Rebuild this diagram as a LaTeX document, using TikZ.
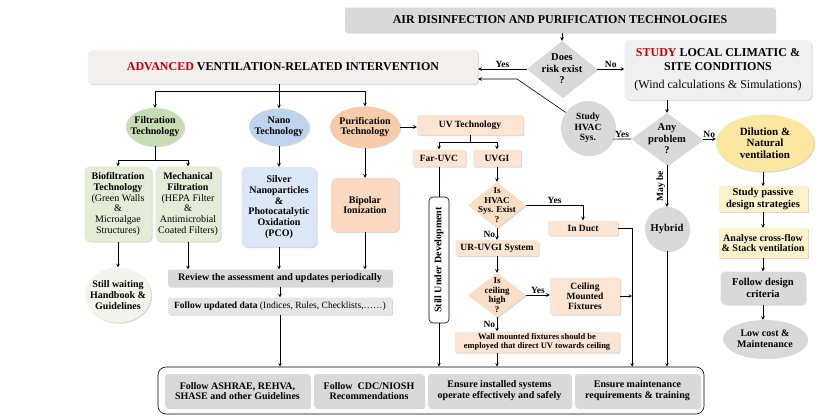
\documentclass[tikz,border=0pt]{standalone}
\usepackage{fontspec}
\setmainfont{Liberation Serif}
\usepackage{tikz}
\usetikzlibrary{arrows,shapes,positioning,shadows}
\usepackage{xcolor}
\definecolor{avgrey}{RGB}{217,217,217}
\definecolor{avlight}{RGB}{230,230,230}
\definecolor{avadv}{RGB}{243,239,239}
\definecolor{avstudy}{RGB}{240,240,240}
\definecolor{avred}{RGB}{192,0,0}
\definecolor{filtgreen}{RGB}{199,220,179}
\definecolor{filtpale}{RGB}{227,236,215}
\definecolor{waitpale}{RGB}{242,245,236}
\definecolor{nanoblue}{RGB}{190,212,238}
\definecolor{nanopale}{RGB}{219,230,246}
\definecolor{purpeach}{RGB}{248,203,170}
\definecolor{bippeach}{RGB}{251,217,193}
\definecolor{uvpeach}{RGB}{252,229,210}
\definecolor{diapeach}{RGB}{250,222,197}
\definecolor{dilyellow}{RGB}{252,231,160}
\definecolor{paleyellow}{RGB}{254,242,205}
\tikzstyle{arrow} = [line width=0.6pt,->,>=stealth]
\tikzstyle{link} = [line width=0.6pt]
\tikzstyle{shade} = [drop shadow={opacity=0.3,shadow xshift=1.2pt,shadow yshift=-1.2pt}]
\tikzstyle{box} = [rectangle, rounded corners=2pt, align=center, inner sep=2pt, shade, font=\bfseries\fontsize{10}{10.8}\selectfont]
\tikzstyle{blob} = [ellipse, align=center, inner xsep=-4pt, inner ysep=0pt, shade, font=\bfseries\fontsize{10}{10.8}\selectfont]
\tikzstyle{round} = [circle, align=center, inner sep=0pt, fill=avgrey, shade]
\tikzstyle{decision} = [diamond, inner sep=0pt, shade]
\tikzstyle{dtext} = [align=center, inner sep=0pt, font=\bfseries\fontsize{10.5}{11.5}\selectfont]
\tikzstyle{stext} = [align=center, inner sep=0pt, font=\bfseries\fontsize{9}{9.6}\selectfont]
\tikzstyle{tag} = [inner sep=1.5pt, font=\bfseries\fontsize{9.5}{10}\selectfont]

\begin{document}
\begin{tikzpicture}[x=1pt, y=-1pt]
\useasboundingbox (0,0) rectangle (816,418);

% Main heading and first decision
\node (air) [box, fill=avgrey, minimum width=430pt, minimum height=25pt, font=\bfseries\fontsize{12}{14}\selectfont] at (560,20) {AIR DISINFECTION AND PURIFICATION TECHNOLOGIES};
\node (risk) [decision, fill=avgrey, minimum width=70pt, minimum height=56pt, label={[dtext]center:{Does\\risk exist\\?}}] at (562,69) {};
\node (adv) [box, fill=avadv, rounded corners=4pt, minimum width=390pt, minimum height=34pt, font=\bfseries\fontsize{12}{14}\selectfont] at (283,67) {\textcolor{avred}{ADVANCED} VENTILATION-RELATED INTERVENTION};
\node (study) [box, fill=avstudy, rounded corners=5pt, minimum width=187pt, minimum height=60pt, font=\bfseries\fontsize{12}{14}\selectfont] at (718,70) {\textcolor{avred}{STUDY} LOCAL CLIMATIC \&\\SITE CONDITIONS\\[4pt]\textmd{(Wind calculations \& Simulations)}};

% Natural ventilation branch
\node (prob) [decision, fill=avgrey, minimum width=71pt, minimum height=52pt, label={[dtext]center:{Any\\problem\\?}}] at (667,139) {};
\node (hvac) [round, minimum size=54pt, font=\bfseries\fontsize{9.5}{10.5}\selectfont] at (588,128) {Study\\HVAC\\Sys.};
\node (hybrid) [round, minimum size=44pt, font=\bfseries\fontsize{10.5}{11}\selectfont] at (667,229) {Hybrid};
\node (dil) [blob, fill=dilyellow, minimum width=98pt, minimum height=57pt, font=\bfseries\fontsize{11}{11.5}\selectfont] at (765,143) {Dilution \&\\Natural\\ventilation};
\node (passive) [box, fill=paleyellow, rounded corners=0pt, minimum width=89pt, minimum height=25pt, font=\bfseries\fontsize{10.5}{11.5}\selectfont] at (763,199) {Study passive\\design strategies};
\node (cross) [box, fill=paleyellow, rounded corners=0pt, minimum width=89pt, minimum height=30pt] at (763,243) {Analyse cross-flow\\\& Stack ventilation};
\node (crit) [box, fill=avgrey, rounded corners=5pt, minimum width=85pt, minimum height=33pt, font=\bfseries\fontsize{10.5}{11.5}\selectfont] at (763,288) {Follow design\\criteria};
\node (low) [blob, fill=avgrey, minimum width=84pt, minimum height=38pt] at (765,339) {Low cost \&\\Maintenance};

% Intervention technologies
\node (filt) [blob, fill=filtgreen, minimum width=58pt, minimum height=38pt] at (155,127) {Filtration\\Technology};
\node (nano) [blob, fill=nanoblue, minimum width=60pt, minimum height=37pt] at (279,127) {Nano\\Technology};
\node (purif) [blob, fill=purpeach, minimum width=70pt, minimum height=41pt] at (365,127) {Purification\\Technology};
\node (bio) [box, fill=filtpale, rounded corners=5pt, minimum width=67pt, minimum height=75pt] at (118,204) {Biofiltration\\Technology\\\textmd{(Green Walls}\\\textmd{\&}\\\textmd{Microalgae}\\\textmd{Structures)}};
\node (mech) [box, fill=filtpale, rounded corners=5pt, minimum width=65pt, minimum height=75pt] at (188,204) {Mechanical\\Filtration\\\textmd{(HEPA Filter}\\\textmd{\&}\\\textmd{Antimicrobial}\\\textmd{Coated Filters)}};
\node (silver) [box, fill=nanopale, rounded corners=6pt, minimum width=75pt, minimum height=80pt] at (279,207) {Silver\\Nanoparticles\\\&\\Photocatalytic\\Oxidation\\(PCO)};
\node (bipolar) [box, fill=bippeach, rounded corners=6pt, minimum width=68pt, minimum height=54pt] at (365,205) {Bipolar\\Ionization};
\node (wait) [blob, fill=waitpale, inner xsep=-6pt, minimum width=66pt, minimum height=55pt] at (118,295) {Still waiting\\Handbook \&\\Guidelines};
\node (review) [box, fill=avgrey, minimum width=224pt, minimum height=17pt] at (280,278) {Review the assessment and updates periodically};
\node (upd) [box, fill=avlight, minimum width=224pt, minimum height=17pt, font=\bfseries\fontsize{9.5}{10.5}\selectfont] at (280,306) {Follow updated data \textmd{(Indices, Rules, Checklists,……)}};

% UV technology
\node (uv) [box, fill=uvpeach, minimum width=106pt, minimum height=20pt, font=\bfseries\fontsize{9.5}{10}\selectfont] at (470,125) {UV Technology};
\node (far) [box, fill=uvpeach, minimum width=53pt, minimum height=17pt, font=\bfseries\fontsize{9.5}{10}\selectfont] at (439,158) {Far-UVC};
\node (uvgi) [box, fill=uvpeach, minimum width=48pt, minimum height=17pt, font=\bfseries\fontsize{9.5}{10}\selectfont] at (497,158) {UVGI};
\node (still) [rectangle, draw, fill=white, line width=0.6pt, rotate=90, rounded corners=4pt, minimum width=126pt, minimum height=20pt, inner sep=1pt, font=\bfseries\fontsize{10}{11}\selectfont] at (439,260) {Still Under Development};
\node (hvacq) [decision, fill=diapeach, minimum width=58pt, minimum height=46pt, label={[stext]center:{Is\\HVAC\\Sys. Exist\\?}}] at (497,205) {};
\node (induct) [box, fill=uvpeach, minimum width=70pt, minimum height=15pt, font=\bfseries\fontsize{9.5}{10}\selectfont] at (583,228) {In Duct};
\node (ur) [box, fill=uvpeach, minimum width=83pt, minimum height=16pt, font=\bfseries\fontsize{9.5}{10}\selectfont] at (497,248) {UR-UVGI System};
\node (ceilq) [decision, fill=diapeach, minimum width=58pt, minimum height=44pt, label={[stext]center:{Is\\ceiling\\high\\?}}] at (497,295) {};
\node (ceilfix) [box, fill=uvpeach, minimum width=70pt, minimum height=37pt, font=\bfseries\fontsize{9.5}{10}\selectfont] at (585,296) {Ceiling\\Mounted\\Fixtures};
\node (wall) [box, fill=uvpeach, minimum width=165pt, minimum height=21pt, font=\bfseries\fontsize{8.5}{9}\selectfont] at (537,342) {Wall mounted fixtures should be\\employed that direct UV towards ceiling};

% Common requirements
\node (goals) [rectangle, draw, fill=white, line width=0.6pt, rounded corners=8pt, minimum width=546pt, minimum height=47pt] at (431,390.5) {};
\node (ashrae) [box, fill=avgrey, rounded corners=3pt, minimum width=145pt, minimum height=34pt] at (237.5,391) {Follow ASHRAE, REHVA,\\SHASE and other Guidelines};
\node (cdc) [box, fill=avgrey, rounded corners=3pt, minimum width=110pt, minimum height=34pt] at (369,391) {Follow~ CDC/NIOSH\\Recommendations};
\node (safe) [box, fill=avgrey, rounded corners=3pt, minimum width=143pt, minimum height=34pt] at (499.5,391) {Ensure installed systems\\operate effectively and safely};
\node (train) [box, fill=avgrey, rounded corners=3pt, minimum width=125pt, minimum height=34pt] at (637.5,391) {Ensure maintenance\\requirements \& training};

% Connectors, top
\draw[arrow] (risk.north |- air.south) -- (risk.north);
\draw[arrow] (risk.west) -- (risk.west -| adv.east) node[midway, above, tag] {Yes};
\draw[arrow] (risk.east) -- (risk.east -| study.west) node[midway, above, tag] {No};
\coordinate (hvacbend) at (517,79);
\draw[arrow] (hvac.145) -- (hvacbend) -- (hvacbend -| adv.east);
\draw[arrow] (prob.north |- study.south) -- (prob.north);
\draw[link] (prob.west) -- (hvac.-24) node[midway, above, tag] {Yes};
\draw[arrow] (prob.east) -- (prob.east -| dil.west) node[midway, above, tag] {No};
\draw[arrow] (prob.south) -- (hybrid.north) node[midway, rotate=90, anchor=south, tag] {May be};
\draw[arrow] (passive.north |- dil.south) -- (passive.north);
\draw[arrow] (passive) -- (cross);
\draw[arrow] (cross) -- (crit);
\draw[arrow] (crit.south) -- (crit.south |- low.north);
\draw[arrow] (hybrid.south) -- (hybrid.south |- goals.north);

% Connectors, technologies
\coordinate (tsplit) at (279,91);
\draw[link] (tsplit |- adv.south) -- (tsplit);
\draw[arrow] (tsplit) -| (filt.north);
\draw[arrow] (tsplit) -- (nano.north);
\draw[arrow] (tsplit) -| (purif.north);
\coordinate (fsplit) at (155,160);
\draw[link] (filt.south) -- (fsplit);
\draw[arrow] (fsplit) -| (bio.north);
\draw[arrow] (fsplit) -| (mech.north);
\draw[arrow] (nano) -- (silver);
\draw[arrow] (purif) -- (bipolar);
\draw[arrow] (bio) -- (wait);
\draw[arrow] (mech.south) -- (mech.south |- review.north);
\draw[arrow] (silver.south) -- (silver.south |- review.north);
\draw[arrow] (bipolar.south) -- (bipolar.south |- review.north);
\draw[arrow] (review) -- (upd);
\draw[arrow] (upd.south) -- (upd.south |- goals.north);

% Connectors, UV
\draw[arrow] (purif.east) -- (purif.east -| uv.west);
\coordinate (usplit) at (470,142);
\draw[link] (uv.south) -- (usplit);
\draw[arrow] (usplit) -| (far.north);
\draw[arrow] (usplit) -| (uvgi.north);
\draw[link] (far.south) -- (still.east);
\draw[arrow] (still.west) -- (still.west |- goals.north);
\draw[arrow] (uvgi) -- (hvacq);
\draw[arrow] (hvacq.east) -| (induct.north) node[pos=0.25, above, tag] {Yes};
\draw[arrow] (hvacq.south) -- (ur.north) node[midway, left, tag] {No};
\coordinate (ductline) at ([xshift=14pt]induct.east);
\draw[arrow] (induct.east) -| (ductline |- goals.north);
\draw[arrow] (ur) -- (ceilq);
\draw[arrow] (ceilq.east) -- (ceilq.east -| ceilfix.west) node[midway, above, tag] {Yes};
\draw[arrow] (ceilfix.east) -- (ceilfix.east -| ductline);
\draw[arrow] (ceilq.south) -- (ceilq.south |- wall.north) node[midway, left, tag] {No};
\draw[arrow] (ceilq.south |- wall.south) -- (ceilq.south |- goals.north);
\end{tikzpicture}
\end{document}
